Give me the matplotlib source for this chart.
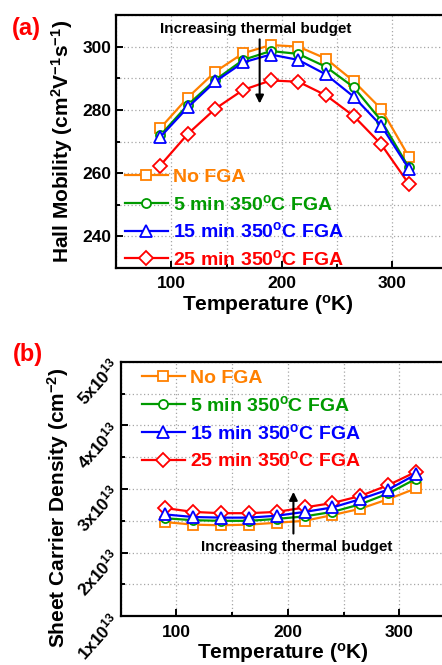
import matplotlib
matplotlib.use('Agg')
import matplotlib.pyplot as plt
from matplotlib.ticker import MultipleLocator, FuncFormatter

plt.rcParams['font.family'] = ['Liberation Sans', 'DejaVu Sans']
plt.rcParams['font.weight'] = 'bold'
plt.rcParams['axes.labelweight'] = 'bold'
plt.rcParams['mathtext.fontset'] = 'custom'
plt.rcParams['mathtext.rm'] = 'Liberation Sans:bold'
plt.rcParams['mathtext.it'] = 'Liberation Sans:bold'
plt.rcParams['mathtext.bf'] = 'Liberation Sans:bold'
plt.rcParams['mathtext.default'] = 'regular'

# temperatures (K)
temp = [90, 115, 140, 165, 190, 215, 240, 265, 290, 315]

labels = ['No FGA', '5 min 350$^o$C FGA', '15 min 350$^o$C FGA', '25 min 350$^o$C FGA']
colors = ['#ff8000', '#009a00', '#0000ff', '#ff0000']
markers = ['s', 'o', '^', 'D']
msizes = [6.5, 6.5, 8, 7]
zorders = [2.1, 2.2, 2.3, 2.0]

# Hall mobility (cm2/Vs)
mob_none = [274.2, 283.9, 292.1, 297.9, 300.5, 300.0, 296.2, 289.1, 280.3, 265.2]
mob_5 = [271.9, 281.6, 289.5, 295.8, 298.6, 297.7, 293.6, 287.2, 276.6, 261.8]
mob_15 = [271.4, 280.8, 289.0, 295.0, 297.5, 295.8, 291.2, 284.2, 275.0, 261.4]
mob_25 = [262.4, 272.4, 280.4, 286.3, 289.3, 288.9, 284.6, 278.1, 269.1, 256.6]

# sheet carrier density (x1e13 cm^-2)
dens_none = [2.48, 2.44, 2.43, 2.44, 2.47, 2.50, 2.59, 2.69, 2.84, 3.01]
dens_5 = [2.54, 2.51, 2.50, 2.50, 2.53, 2.57, 2.64, 2.76, 2.93, 3.16]
dens_15 = [2.60, 2.56, 2.55, 2.55, 2.58, 2.64, 2.71, 2.84, 2.99, 3.23]
dens_25 = [2.70, 2.64, 2.62, 2.62, 2.64, 2.71, 2.78, 2.89, 3.06, 3.27]

W, H = 442, 665
fig = plt.figure(figsize=(W / 100, H / 100), dpi=100)


def px_axes(left, top, right, bottom):
    return fig.add_axes([left / W, 1 - bottom / H, (right - left) / W, (bottom - top) / H])


def style(ax):
    for s in ax.spines.values():
        s.set_linewidth(1.6)
    ax.tick_params(which='both', direction='in', top=False, right=False, width=1.4)
    ax.tick_params(which='major', length=5, labelsize=12.5)
    ax.tick_params(which='minor', length=3)
    ax.tick_params(axis='x', pad=6)
    ax.grid(True, which='both', color='0.65', linestyle=(0, (1, 2)), linewidth=0.9)
    ax.set_axisbelow(True)


def draw(ax, series):
    for y, lab, c, m, ms, z in zip(series, labels, colors, markers, msizes, zorders):
        ax.plot(temp, y, color=c, marker=m, ms=ms, mfc='white', mec=c, mew=1.3,
                lw=1.6, label=lab, zorder=z)


def color_legend(leg):
    for t, c in zip(leg.get_texts(), colors):
        t.set_color(c)


# (a) Hall mobility
ax1 = px_axes(116, 15, 447.5, 268)
style(ax1)
draw(ax1, [mob_none, mob_5, mob_15, mob_25])
ax1.set_xlim(50, 350)
ax1.set_ylim(230, 310)
ax1.xaxis.set_major_locator(MultipleLocator(100))
ax1.xaxis.set_minor_locator(MultipleLocator(50))
ax1.yaxis.set_major_locator(MultipleLocator(20))
ax1.yaxis.set_minor_locator(MultipleLocator(10))
ax1.set_xlabel('Temperature ($^o$K)', fontsize=15, va='center')
ax1.set_ylabel('Hall Mobility (cm$^2$V$^{-1}$s$^{-1}$)', fontsize=15, va='center')
ax1.xaxis.set_label_coords(0.458, -0.146)
ax1.yaxis.set_label_coords(-0.163, 0.5)
ax1.text(176, 305.7, 'Increasing thermal budget', fontsize=11, ha='center', va='center')
ax1.annotate('', xy=(180, 282), xytext=(180, 302.3),
             arrowprops=dict(arrowstyle='-|>', color='k', lw=1.5, mutation_scale=12,
                             shrinkA=0, shrinkB=0))
leg1 = ax1.legend(loc='lower left', bbox_to_anchor=(0.015, -0.02), frameon=False,
                  fontsize=14, handlelength=2.2, handletextpad=0.3, labelspacing=0.4,
                  borderaxespad=0.1, borderpad=0.1)
color_legend(leg1)

# (b) sheet carrier density
ax2 = px_axes(120.7, 361.7, 455, 616.3)
style(ax2)
draw(ax2, [dens_none, dens_5, dens_15, dens_25])
ax2.set_xlim(50, 350)
ax2.set_ylim(1, 5)
ax2.xaxis.set_major_locator(MultipleLocator(100))
ax2.xaxis.set_minor_locator(MultipleLocator(50))
ax2.yaxis.set_major_locator(MultipleLocator(1))
ax2.yaxis.set_minor_locator(MultipleLocator(0.5))
ax2.yaxis.set_major_formatter(FuncFormatter(lambda v, p: '%dx10$^{13}$' % round(v)))
for lbl in ax2.get_yticklabels():
    lbl.set_rotation(48)
    lbl.set_rotation_mode('anchor')
    lbl.set_ha('right')
    lbl.set_va('center')
ax2.set_xlabel('Temperature ($^o$K)', fontsize=15, va='center')
ax2.set_ylabel('Sheet Carrier Density (cm$^{-2}$)', fontsize=15, va='center')
ax2.xaxis.set_label_coords(0.4855, -0.144)
ax2.yaxis.set_label_coords(-0.188, 0.427)
ax2.text(207.7, 2.09, 'Increasing thermal budget', fontsize=11, ha='center', va='center')
ax2.annotate('', xy=(205, 2.955), xytext=(205, 2.30),
             arrowprops=dict(arrowstyle='-|>', color='k', lw=1.5, mutation_scale=12,
                             shrinkA=0, shrinkB=0))
leg2 = ax2.legend(loc='upper left', bbox_to_anchor=(0.04, 1.0), frameon=False,
                  fontsize=14, handlelength=2.2, handletextpad=0.3, labelspacing=0.4,
                  borderaxespad=0.1, borderpad=0.3)
color_legend(leg2)

fig.text(12 / W, 1 - 28 / H, '(a)', color='#ff0000', fontsize=17, ha='left', va='center')
fig.text(13 / W, 1 - 354 / H, '(b)', color='#ff0000', fontsize=17, ha='left', va='center')

fig.savefig('out.png', dpi=100)
